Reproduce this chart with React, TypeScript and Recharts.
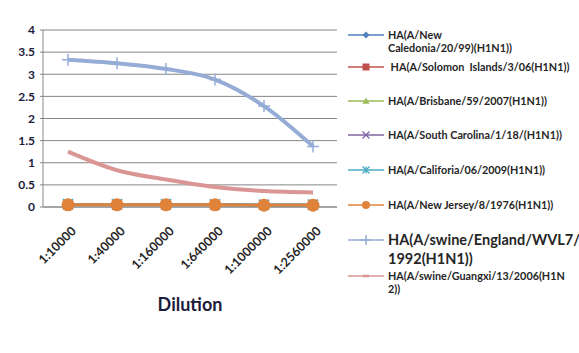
import React from 'react'
import { LineChart, Line, XAxis, YAxis, CartesianGrid } from 'recharts'

const dilutions = ['1:10000', '1:40000', '1:160000', '1:640000', '1:1000000', '1:2560000']

const newCaledonia = [0.06, 0.06, 0.06, 0.06, 0.05, 0.05]
const solomonIslands = [0.05, 0.05, 0.05, 0.05, 0.05, 0.05]
const brisbane = [0.05, 0.05, 0.05, 0.05, 0.05, 0.05]
const southCarolina = [0.06, 0.06, 0.06, 0.06, 0.05, 0.05]
const california = [0.07, 0.07, 0.07, 0.06, 0.05, 0.05]
const newJersey = [0.05, 0.05, 0.05, 0.05, 0.04, 0.04]
const swineEngland = [3.33, 3.25, 3.12, 2.88, 2.28, 1.37]
const swineGuangxi = [1.25, 0.83, 0.62, 0.45, 0.36, 0.33]

const yTicks = [0, 0.5, 1, 1.5, 2, 2.5, 3, 3.5, 4]

type Marker = 'diamond' | 'square' | 'triangle' | 'x' | 'star' | 'circle' | 'plus' | 'dash'

// legend text is split where the original wraps it
const seriesList: { key: string; lines: string[]; values: number[]; color: string; marker: Marker; width: number; big?: boolean }[] = [
  { key: 'newCaledonia', lines: ['HA(A/New', 'Caledonia/20/99)(H1N1))'], values: newCaledonia, color: '#4F81BD', marker: 'diamond', width: 2 },
  { key: 'solomonIslands', lines: [' HA(A/Solomon  Islands/3/06(H1N1))'], values: solomonIslands, color: '#C0504D', marker: 'square', width: 2 },
  { key: 'brisbane', lines: ['HA(A/Brisbane/59/2007(H1N1))'], values: brisbane, color: '#9BBB59', marker: 'triangle', width: 2 },
  { key: 'southCarolina', lines: ['HA(A/South Carolina/1/18/(H1N1))'], values: southCarolina, color: '#8064A2', marker: 'x', width: 2 },
  { key: 'california', lines: ['HA(A/Califoria/06/2009(H1N1))'], values: california, color: '#4BACC6', marker: 'star', width: 2 },
  { key: 'newJersey', lines: ['HA(A/New Jersey/8/1976(H1N1))'], values: newJersey, color: '#E0833A', marker: 'circle', width: 3 },
  { key: 'swineEngland', lines: ['HA(A/swine/England/WVL7/', '1992(H1N1))'], values: swineEngland, color: '#95ACD6', marker: 'plus', width: 4, big: true },
  { key: 'swineGuangxi', lines: ['HA(A/swine/Guangxi/13/2006(H1N', '2))'], values: swineGuangxi, color: '#D99694', marker: 'dash', width: 4 },
]

const data = dilutions.map((d, i) => {
  const row: Record<string, any> = { dilution: d }
  seriesList.forEach(s => { row[s.key] = s.values[i] })
  return row
})

function markerShape(kind: Marker, color: string, cx: number, cy: number, s: number) {
  switch (kind) {
    case 'diamond':
      return <path d={`M${cx},${cy - s} L${cx + s},${cy} L${cx},${cy + s} L${cx - s},${cy} Z`} fill={color} />
    case 'square':
      return <rect x={cx - s} y={cy - s} width={s * 2} height={s * 2} fill={color} />
    case 'triangle':
      return <path d={`M${cx},${cy - s} L${cx + s},${cy + s * 0.8} L${cx - s},${cy + s * 0.8} Z`} fill={color} />
    case 'x':
      return <path d={`M${cx - s},${cy - s} L${cx + s},${cy + s} M${cx - s},${cy + s} L${cx + s},${cy - s}`} stroke={color} strokeWidth={1.3} />
    case 'star':
      return <path d={`M${cx - s},${cy - s} L${cx + s},${cy + s} M${cx - s},${cy + s} L${cx + s},${cy - s} M${cx},${cy - s} L${cx},${cy + s}`} stroke={color} strokeWidth={1.3} />
    case 'circle':
      return <circle cx={cx} cy={cy} r={s} fill={color} />
    case 'plus':
      return <path d={`M${cx - s},${cy} L${cx + s},${cy} M${cx},${cy - s} L${cx},${cy + s}`} stroke={color} strokeWidth={1.5} />
    case 'dash':
      return <path d={`M${cx - s},${cy} L${cx + s},${cy}`} stroke={color} strokeWidth={2} />
  }
}

const makeDot = (kind: Marker, color: string, size: number) => (props: any) => {
  const { cx, cy, index } = props
  if (cx == null || cy == null) return <g key={index} />
  return <g key={`${kind}-${index}`}>{markerShape(kind, color, cx, cy, size)}</g>
}

const plotSizes: Record<Marker, number> = {
  diamond: 5, square: 5, triangle: 5, x: 5, star: 5, circle: 6.5, plus: 6, dash: 0,
}

const font = "Lato, 'Open Sans', sans-serif"

const DilutionTick = (props: any) => {
  const { x, y, payload } = props
  return (
    <g transform={`translate(${x + 6},${y + 14})`}>
      <text x={0} y={0} dy={4} textAnchor="end" transform="rotate(-45)"
        fontFamily={font} fontWeight={700} fontSize={12.5} fill="#262626">
        {payload.value}
      </text>
    </g>
  )
}

function LegendBox() {
  const rows = [35, 67, 101, 135, 170, 205, 240, 276]
  return (
    <div style={{ position: 'absolute', left: 0, top: 0, width: 579, height: 353, pointerEvents: 'none' }}>
      {seriesList.map((s, i) => {
        const y = rows[i]
        return (
          <div key={s.key}>
            <svg style={{ position: 'absolute', left: 348, top: y - 8 }} width={36} height={16}>
              <line x1={0} y1={8} x2={36} y2={8} stroke={s.color} strokeWidth={1.5} />
              {s.marker !== 'dash' && markerShape(s.marker, s.color, 18, 8, s.marker === 'circle' ? 4 : s.marker === 'plus' ? 5 : 3.5)}
              {s.marker === 'dash' && <line x1={15} y1={8} x2={21} y2={8} stroke={s.color} strokeWidth={2.5} />}
            </svg>
            <div style={{
              position: 'absolute', left: 388, top: y - (s.big ? 10 : 7), width: 191,
              fontFamily: font, fontWeight: 700, fontSize: s.big ? 14.5 : 10.8,
              lineHeight: s.big ? '19px' : '13px', color: '#262626', whiteSpace: 'pre',
            }}>
              {s.lines.map(l => <div key={l}>{l}</div>)}
            </div>
          </div>
        )
      })}
    </div>
  )
}

export default function App() {
  return (
    <div style={{ position: 'absolute', left: 0, top: 0, width: 579, height: 353, background: '#fff', overflow: 'hidden' }}>
      <div style={{
        position: 'absolute', left: 68, top: -20, fontFamily: font, fontWeight: 700, fontSize: 20,
        color: '#8C8C8C', whiteSpace: 'nowrap', letterSpacing: 0.5,
      }}>
        ELISA RESULTS OF H1 SUBTYPE
      </div>
      <LineChart width={579} height={353} data={data} margin={{ top: 30, right: 242, left: 0, bottom: 0 }}>
        <CartesianGrid vertical={false} stroke="#868686" strokeWidth={1} />
        <XAxis dataKey="dilution" height={146} tick={<DilutionTick />} tickLine={false} interval={0}
          padding={{ left: 25, right: 24 }}
          axisLine={{ stroke: '#868686' }}
          label={{ value: 'Dilution', position: 'insideBottom', offset: 42, style: { fontFamily: font, fontWeight: 700, fontSize: 18, fill: '#1B1B3A' } }} />
        <YAxis width={43} domain={[0, 4]} ticks={yTicks} interval={0} tickSize={3} tickMargin={5}
          axisLine={{ stroke: '#868686' }} tickLine={{ stroke: '#868686' }}
          tick={{ fontFamily: font, fontWeight: 700, fontSize: 12, fill: '#1B1B3A' }} />
        {seriesList.map(s => (
          <Line key={s.key} dataKey={s.key} name={s.lines.join(' ')} stroke={s.color} strokeWidth={s.width}
            type={s.big || s.marker === 'dash' ? 'monotone' : 'linear'}
            dot={s.marker === 'dash' ? false : makeDot(s.marker, s.color, plotSizes[s.marker])}
            activeDot={false} isAnimationActive={false} />
        ))}
      </LineChart>
      <LegendBox />
    </div>
  )
}
